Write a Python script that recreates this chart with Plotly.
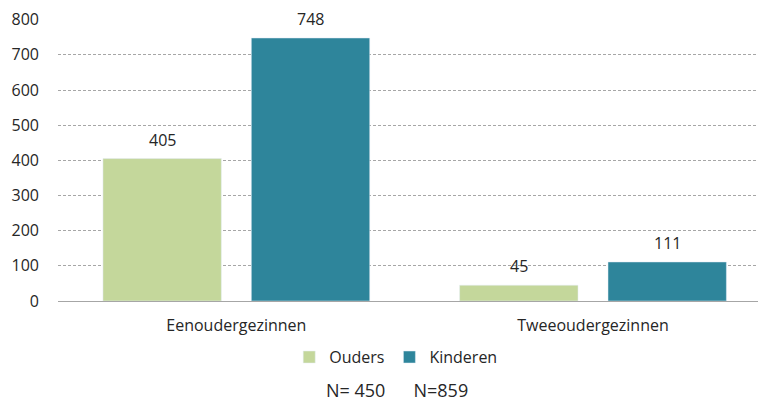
import plotly.graph_objects as go

categories = ['Eenoudergezinnen', 'Tweeoudergezinnen']
ouders = [405, 45]
kinderen = [748, 111]
y_ticks = [0, 100, 200, 300, 400, 500, 600, 700, 800]
note = 'N= 450' + '&nbsp;' * 6 + 'N=859'

font = dict(family='Open Sans', size=16, color='#262626')
colors = {'Ouders': '#c4d79b', 'Kinderen': '#2e859b'}
series = {'Ouders': ouders, 'Kinderen': kinderen}

fig = go.Figure()
for name, vals in series.items():
    fig.add_trace(go.Bar(x=categories, y=vals, name=name, marker=dict(color=colors[name])))

# value labels above the bars (a bit higher than plotly's 'outside' text)
slot_px = 148.4
annotations = []
for i, (name, vals) in enumerate(series.items()):
    for cat, v in zip(categories, vals):
        annotations.append(dict(x=cat, y=v, text=str(v), showarrow=False, font=font,
                                xshift=(i - 0.5) * slot_px, yshift=19, yanchor='middle'))
annotations.append(dict(text=note, xref='paper', yref='paper', x=0.479, y=-0.317,
                        xanchor='center', yanchor='middle', showarrow=False,
                        font=dict(font, size=18)))

# the page body has an 8px margin, so margins are 8px smaller than measured
fig.update_layout(
    width=766, height=401,
    margin=dict(l=50, r=8, t=11, b=108, autoexpand=False),
    plot_bgcolor='white', paper_bgcolor='white',
    font=font,
    barmode='group', bargap=0.168, bargroupgap=0.202,
    legend=dict(orientation='h', x=0.477, xanchor='center', y=-0.199, yanchor='middle',
                font=font, itemwidth=30, traceorder='normal'),
    annotations=annotations,
)
fig.update_xaxes(range=[-0.5, 1.485], showline=True, linecolor='#a6a6a6', linewidth=1,
                 ticks='', tickfont=font, automargin=False, ticklabelstandoff=10)
fig.update_yaxes(range=[0, 802], tickvals=y_ticks, showgrid=True, gridcolor='#a6a6a6',
                 griddash='3px,2px', gridwidth=1, zeroline=False, tickfont=font,
                 ticklabelstandoff=18, automargin=False)

fig.write_html('out.html')
